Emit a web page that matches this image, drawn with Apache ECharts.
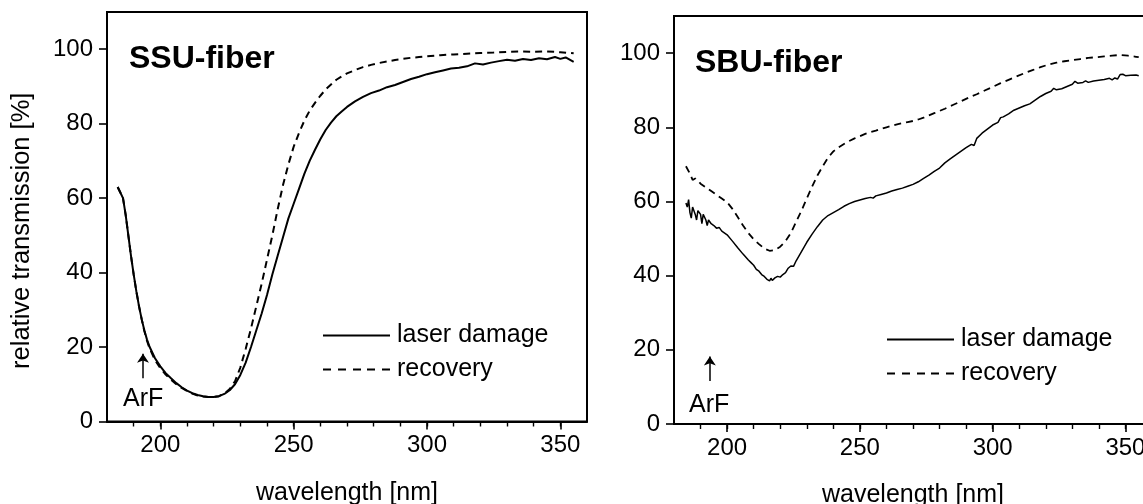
<!DOCTYPE html>
<html><head><meta charset="utf-8">
<script src="https://cdn.jsdelivr.net/npm/echarts@6/dist/echarts.min.js"></script>
<style>html,body{margin:0;padding:0;background:#fff}#c{width:1143px;height:504px}</style>
</head><body><div id="c"></div>
<script>
// ---------- data (wavelength nm, relative transmission %) ----------
const ssuDamage = [[184,63],[185,61.5],[186,60],[187,55.5],[188,50],[189,44.5],[190,39.5],[191,35],[192,31],[193,27.5],[194,24.5],[195,22],[196,20],[198,17],[200,14.8],[202,13],[204,11.6],[206,10.3],[208,9.2],[210,8.3],[212,7.6],[214,7.1],[216,6.8],[218,6.6],[220,6.6],[222,6.8],[224,7.4],[226,8.4],[228,10],[230,12.5],[232,15.8],[234,20],[236,24.5],[238,29],[240,34],[242,39.5],[244,44.5],[246,49.5],[248,54.5],[250,58.5],[252,62.5],[254,66.5],[256,70],[258,73],[260,75.8],[262,78.3],[264,80.3],[266,82],[268,83.3],[270,84.5],[273,86],[276,87.2],[279,88.2],[282,88.9],[285,89.8],[288,90.4],[291,91.2],[294,92],[297,92.6],[300,93.3],[303,93.8],[306,94.3],[309,94.8],[312,95],[315,95.4],[318,96.2],[321,95.9],[324,96.4],[327,96.8],[330,97.2],[333,96.9],[336,97.4],[339,97.1],[342,97.6],[345,97.3],[348,97.9],[350,97.4],[352,97.8],[354,97.0],[355,96.6]];
const ssuRecovery = [[184,63],[185,61.5],[186,60],[187,55.5],[188,50],[189,44.5],[190,39.5],[191,35],[192,31],[193,27.5],[194,24.3],[195,21.7],[196,19.6],[198,16.5],[200,14.3],[202,12.6],[204,11.2],[206,10],[208,9],[210,8.2],[212,7.5],[214,7],[216,6.7],[218,6.6],[220,6.6],[222,6.8],[224,7.5],[226,8.7],[228,10.8],[230,14.5],[232,19.5],[234,25],[236,31],[238,37],[240,43.5],[242,50],[244,57],[246,63.5],[248,69],[250,73.8],[252,77.5],[254,80.8],[256,83.5],[258,85.6],[260,87.5],[262,89.2],[264,90.5],[266,91.8],[268,92.7],[270,93.5],[273,94.4],[276,95.2],[279,95.8],[282,96.3],[285,96.7],[288,97.1],[291,97.4],[294,97.7],[297,97.9],[300,98.1],[305,98.4],[310,98.6],[315,98.8],[320,99.0],[325,99.1],[330,99.3],[335,99.4],[340,99.3],[345,99.4],[350,99.2],[355,98.9]];
const sbuDamage = [[184.5,59.6],[185,58.5],[185.5,60.5],[186,57],[186.5,55.5],[187,58.5],[187.5,59],[188,56.5],[188.5,55],[189,57.5],[190,56.5],[190.5,54],[191,56.5],[192,55],[192.5,53.5],[193,55],[194,54],[195,53.5],[196,52.8],[197,53],[198,52],[200,51],[202,49.3],[204,47.5],[206,45.8],[208,44.2],[209,43.5],[210,42.8],[211,41.7],[212,41.2],[213,40.3],[214,39.8],[215,39],[216,38.6],[216.5,39.3],[217,38.7],[218,39.4],[218.5,38.9],[219,39.8],[220,39.6],[221,40.3],[222,40.8],[223,42],[224,42.6],[225,42.5],[226,44],[228,46.5],[230,49],[232,51.2],[234,53.2],[236,55],[238,56.2],[240,57],[242,57.8],[244,58.7],[246,59.4],[248,60],[250,60.4],[252,60.8],[254,61.1],[255,60.9],[256,61.5],[258,61.9],[260,62.3],[262,62.8],[264,63.2],[266,63.6],[268,64.1],[270,64.6],[272,65.3],[274,66.2],[276,67.1],[278,68.1],[280,69],[282,70.4],[284,71.5],[286,72.5],[288,73.5],[290,74.5],[292,75.4],[293,75.1],[294,77],[296,78.4],[298,79.5],[300,80.6],[302,81.3],[303,82.6],[304,82.8],[306,83.6],[308,84.6],[310,85.2],[312,85.8],[314,86.3],[316,87.3],[318,88.3],[320,89.1],[322,89.7],[323,90.5],[324,90.1],[326,90.4],[328,91],[330,91.6],[331,92.4],[332,91.9],[334,92.1],[335,92.5],[336,92.1],[338,92.5],[340,92.7],[342,92.9],[344,93.2],[345,92.8],[346,93.3],[347,93],[348,94.2],[349,94.3],[350,93.9],[352,94],[354,94.1],[355,93.9]];
const sbuRecovery = [[184.5,69.5],[186,67.5],[187,65.8],[188,66.2],[189,65.6],[190,64.8],[192,63.8],[194,62.8],[196,61.8],[198,60.8],[200,59.8],[202,58],[204,55.8],[206,53.5],[208,51.5],[210,49.8],[212,48.5],[214,47.3],[216,46.7],[218,46.9],[220,47.8],[222,49.3],[224,51.5],[226,54.5],[228,57.5],[230,60.8],[232,64],[234,67],[236,69.5],[238,71.8],[240,73.5],[242,74.6],[244,75.5],[246,76.3],[248,77],[250,77.6],[252,78.2],[254,78.7],[256,79.1],[258,79.6],[260,80],[262,80.4],[264,80.8],[266,81.1],[268,81.4],[270,81.7],[272,82.1],[274,82.6],[276,83.2],[278,83.8],[280,84.4],[282,85],[285,86],[288,87],[291,88],[294,88.9],[297,89.9],[300,90.9],[303,91.9],[306,92.8],[309,93.7],[312,94.6],[315,95.4],[318,96.2],[321,96.9],[324,97.4],[327,97.8],[330,98.1],[333,98.4],[336,98.7],[339,98.9],[342,99.1],[345,99.3],[348,99.5],[351,99.3],[354,99.0],[355,98.9]];
const seriesNames = ['laser damage', 'recovery'];
const panelTitles = ['SSU-fiber', 'SBU-fiber'];
const arfLabel = 'ArF';
const arfWavelength = 193.5;
const arfArrow = [11.6, 18.2];
const xMajorTicks = [200, 250, 300, 350];
const xMinorTicks = [190, 200, 210, 220, 230, 240, 250, 260, 270, 280, 290, 300, 310, 320, 330, 340, 350];
const yTicks = [0, 20, 40, 60, 80, 100];
const xRange = [180, 360];
const yRange = [0, 110];
const xTitle = 'wavelength [nm]';
const yTitle = 'relative transmission [%]';

// ---------- chart ----------
const FONT = '"Liberation Sans", Arial, Helvetica, sans-serif';
const chart = echarts.init(document.getElementById('c'), null, {renderer: 'canvas'});

function mainX(g) {
  return {
    gridIndex: g, type: 'value', position: 'bottom', min: xRange[0], max: xRange[1],
    axisLine: {show: true, lineStyle: {color: '#000', width: 2}},
    axisTick: {show: true, inside: false, length: 8, lineStyle: {color: '#000', width: 1.6}, customValues: xMajorTicks},
    axisLabel: {show: true, customValues: xMajorTicks, fontSize: 24, color: '#000', margin: 12, fontFamily: FONT, hideOverlap: false},
    splitLine: {show: false},
    name: xTitle, nameLocation: 'middle', nameGap: 59,
    nameTextStyle: {fontSize: 25, color: '#000', fontFamily: FONT}
  };
}
function minorX(g) {
  return {
    gridIndex: g, type: 'value', position: 'bottom', min: xRange[0], max: xRange[1],
    axisLine: {show: false},
    axisTick: {show: true, inside: false, length: 5, lineStyle: {color: '#000', width: 1.4}, customValues: xMinorTicks},
    axisLabel: {show: false}, splitLine: {show: false}
  };
}
function yAx(g, withName) {
  const a = {
    gridIndex: g, type: 'value', min: yRange[0], max: yRange[1],
    axisLine: {show: true, lineStyle: {color: '#000', width: 2}},
    axisTick: {show: true, inside: false, length: 8, lineStyle: {color: '#000', width: 1.6}, customValues: yTicks},
    axisLabel: {show: true, customValues: yTicks, fontSize: 24, color: '#000', margin: 14, fontFamily: FONT},
    splitLine: {show: false}
  };
  if (withName) {
    a.name = yTitle; a.nameLocation = 'middle'; a.nameGap = 72;
    a.nameTextStyle = {fontSize: 25.5, color: '#000', fontFamily: FONT, padding: [0, 28, 0, 0]};
  }
  return a;
}
function lineSeries(name, data, xi, yi, width, dashed, withArrow) {
  const s = {
    name: name, type: 'line', data: data, xAxisIndex: xi, yAxisIndex: yi,
    symbol: 'none', smooth: false, color: '#000',
    itemStyle: {color: '#000'},
    lineStyle: {color: '#000', width: width, type: dashed ? [7, 5] : 'solid'},
    animation: false, silent: true
  };
  if (withArrow) {
    s.markLine = {
      silent: true, animation: false,
      symbol: ['none', 'arrow'], symbolSize: 9,
      lineStyle: {color: '#000', width: 1.5, type: 'solid'},
      label: {show: false},
      data: [[{coord: [arfWavelength, arfArrow[0]]}, {coord: [arfWavelength, arfArrow[1]]}]]
    };
  }
  return s;
}
const solidIcon = 'path://M0,0H67V2H0Z';
const dashIcon = 'path://M0,0H8V2H0Z M15,0H23V2H15Z M30,0H38V2H30Z M44,0H52V2H44Z M59,0H67V2H59Z';
function legendAt(left, top) {
  return {
    left: left, top: top, orient: 'vertical', itemWidth: 67, itemHeight: 2, itemGap: 9,
    selectedMode: false,
    data: [{name: seriesNames[0], icon: solidIcon}, {name: seriesNames[1], icon: dashIcon}],
    textStyle: {fontSize: 25, color: '#000', fontFamily: FONT, padding: [0, 0, 0, 2]}
  };
}

const option = {
  backgroundColor: '#fff',
  animation: false,
  grid: [
    {left: 107, top: 12, width: 480, height: 409.5, show: true, borderColor: '#000', borderWidth: 2, containLabel: false, outerBoundsMode: 'none'},
    {left: 674, top: 16, width: 478, height: 408, show: true, borderColor: '#000', borderWidth: 2, containLabel: false, outerBoundsMode: 'none'}
  ],
  xAxis: [mainX(0), minorX(0), mainX(1), minorX(1)],
  yAxis: [yAx(0, true), yAx(1, false)],
  legend: [legendAt(318, 318), legendAt(882, 322)],
  series: [
    lineSeries(seriesNames[0], ssuDamage, 0, 0, 2, false, true),
    lineSeries(seriesNames[1], ssuRecovery, 0, 0, 2, true, false),
    lineSeries(seriesNames[0], sbuDamage, 2, 1, 1.5, false, true),
    lineSeries(seriesNames[1], sbuRecovery, 2, 1, 1.8, true, false)
  ],
  graphic: [
    {type: 'text', x: 129, y: 59, silent: true, style: {text: panelTitles[0], fontSize: 32, fontWeight: 'bold', fontFamily: FONT, fill: '#000', verticalAlign: 'middle'}},
    {type: 'text', x: 695, y: 63, silent: true, style: {text: panelTitles[1], fontSize: 32, fontWeight: 'bold', fontFamily: FONT, fill: '#000', verticalAlign: 'middle'}},
    {type: 'text', x: 123, y: 399, silent: true, style: {text: arfLabel, fontSize: 25, fontFamily: FONT, fill: '#000', verticalAlign: 'middle'}},
    {type: 'text', x: 689, y: 405, silent: true, style: {text: arfLabel, fontSize: 25, fontFamily: FONT, fill: '#000', verticalAlign: 'middle'}}
  ]
};
chart.setOption(option);
</script></body></html>
